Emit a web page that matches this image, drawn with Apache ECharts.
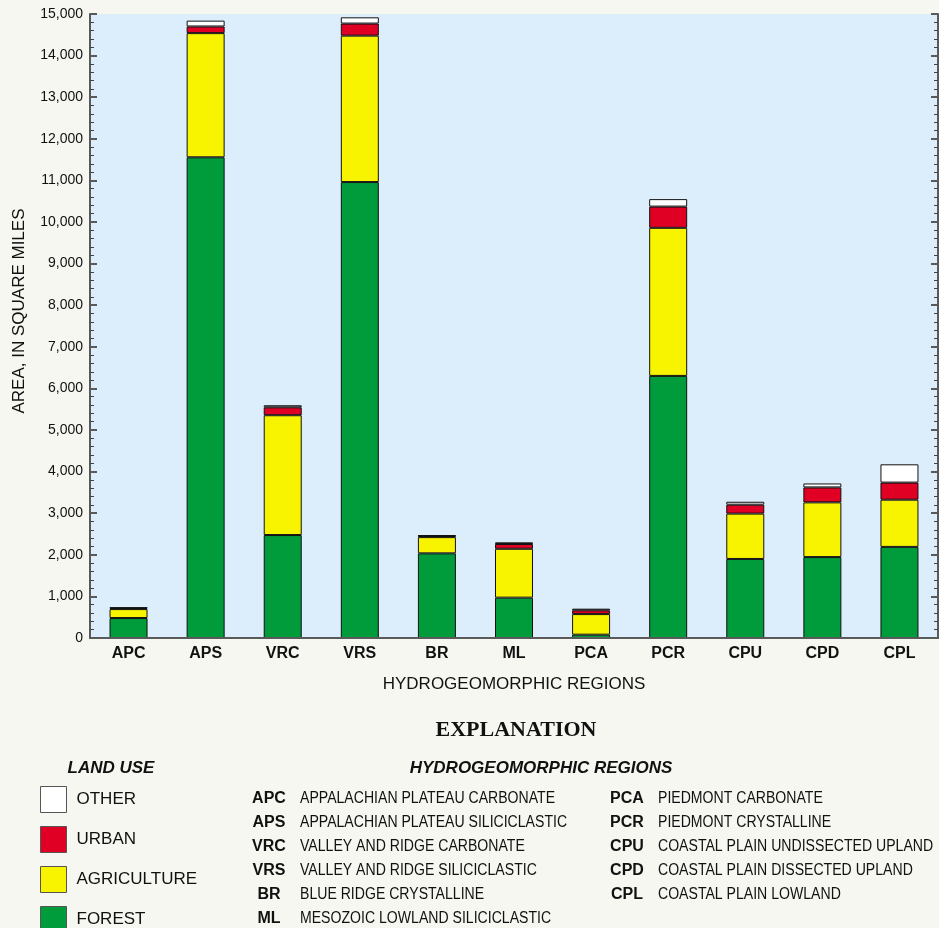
<!DOCTYPE html>
<html>
<head>
<meta charset="utf-8">
<title>Land use by hydrogeomorphic region</title>
<script src="https://cdn.jsdelivr.net/npm/echarts@6/dist/echarts.min.js"></script>
<style>
  html, body { margin: 0; padding: 0; background: #F6F7F0; }
  #chart { width: 939px; height: 928px; }
</style>
</head>
<body>
<div id="chart"></div>
<script>
// Hydrogeomorphic region codes (x-axis categories)
const regions = ['APC', 'APS', 'VRC', 'VRS', 'BR', 'ML', 'PCA', 'PCR', 'CPU', 'CPD', 'CPL'];

// Area by land use, in square miles, stacked bottom to top
const forest      = [480, 11555, 2475, 10960, 2035, 970,  80, 6300, 1900, 1945, 2190];
const agriculture = [215,  2985, 2880,  3520,  390, 1175, 495, 3560, 1090, 1315, 1135];
const urban       = [ 25,   160,  190,   290,   30,  115,  90,  510,  215,  360,  410];
const other       = [ 15,   140,   50,   150,   15,   40,  40,  180,   70,   95,  440];

// Y-axis range
const yMin = 0, yMax = 15000, yStep = 1000;

// Explanation text
const regionNamesLeft = [
  ['APC', 'APPALACHIAN PLATEAU CARBONATE'],
  ['APS', 'APPALACHIAN PLATEAU SILICICLASTIC'],
  ['VRC', 'VALLEY AND RIDGE CARBONATE'],
  ['VRS', 'VALLEY AND RIDGE SILICICLASTIC'],
  ['BR',  'BLUE RIDGE CRYSTALLINE'],
  ['ML',  'MESOZOIC LOWLAND SILICICLASTIC']
];
const regionNamesRight = [
  ['PCA', 'PIEDMONT CARBONATE'],
  ['PCR', 'PIEDMONT CRYSTALLINE'],
  ['CPU', 'COASTAL PLAIN UNDISSECTED UPLAND'],
  ['CPD', 'COASTAL PLAIN DISSECTED UPLAND'],
  ['CPL', 'COASTAL PLAIN LOWLAND']
];

const COLORS = { forest: '#009B3A', agriculture: '#F8F400', urban: '#E00024', other: '#FFFFFF' };
const FONT = '"Liberation Sans", Arial, Helvetica, sans-serif';
const AXIS_GRAY = '#5A5A5A';

const chart = echarts.init(document.getElementById('chart'), null, { renderer: 'canvas' });

function barSeries(name, data, color) {
  return {
    name: name,
    type: 'bar',
    stack: 'area',
    data: data,
    barWidth: 38,
    itemStyle: { color: color, borderColor: '#111', borderWidth: 1 },
    emphasis: { disabled: true },
    xAxisIndex: 0,
    yAxisIndex: 0
  };
}

// Explanation block drawn as graphic text
const graphics = [];
graphics.push({
  type: 'text', x: 516, y: 730,
  style: { text: 'EXPLANATION', font: 'bold 22px "Liberation Serif", "Times New Roman", serif',
           fill: '#111', textAlign: 'center', textVerticalAlign: 'middle' }
});
graphics.push({
  type: 'text', x: 111, y: 768,
  style: { text: 'LAND USE', font: 'italic bold 17px ' + FONT,
           fill: '#111', textAlign: 'center', textVerticalAlign: 'middle' }
});
graphics.push({
  type: 'text', x: 541, y: 768,
  style: { text: 'HYDROGEOMORPHIC REGIONS', font: 'italic bold 17px ' + FONT,
           fill: '#111', textAlign: 'center', textVerticalAlign: 'middle' }
});
// Y-axis title
graphics.push({
  type: 'text', x: 19, y: 311, rotation: Math.PI / 2,
  style: { text: 'AREA, IN SQUARE MILES', font: '17px ' + FONT,
           fill: '#111', textAlign: 'center', textVerticalAlign: 'middle' }
});

function addRegionColumn(list, codeX, nameX) {
  list.forEach(function (row, i) {
    const y = 799 + i * 24;
    graphics.push({
      type: 'text', x: codeX, y: y,
      style: { text: row[0], font: 'bold 16px ' + FONT, fill: '#111',
               textAlign: 'center', textVerticalAlign: 'middle' }
    });
    graphics.push({
      type: 'text', x: nameX, y: y, scaleX: 0.88, scaleY: 1,
      style: { text: row[1], font: '16px ' + FONT, fill: '#111',
               textAlign: 'left', textVerticalAlign: 'middle' }
    });
  });
}
addRegionColumn(regionNamesLeft, 269, 300);
addRegionColumn(regionNamesRight, 627, 658);

const option = {
  backgroundColor: '#F6F7F0',
  animation: false,
  textStyle: { fontFamily: FONT },
  grid: {
    left: 90, right: 1, top: 14, bottom: 290,
    show: true, backgroundColor: '#DCEDFB', borderColor: AXIS_GRAY, borderWidth: 0,
    containLabel: false
  },
  legend: {
    orient: 'vertical',
    left: 35, top: 781,
    height: 180,
    padding: 5,
    icon: 'rect',
    itemWidth: 26, itemHeight: 26, itemGap: 13,
    data: ['OTHER', 'URBAN', 'AGRICULTURE', 'FOREST'],
    selectedMode: false,
    textStyle: { fontSize: 17, color: '#111', fontFamily: FONT, padding: [0, 0, 0, 5] },
    itemStyle: { borderColor: '#555', borderWidth: 1 }
  },
  xAxis: [
    {
      type: 'category',
      data: regions,
      position: 'bottom',
      z: 5,
      axisLine: { lineStyle: { color: AXIS_GRAY, width: 2 } },
      axisTick: { inside: true, alignWithLabel: true, length: 7, lineStyle: { color: '#222', width: 1 } },
      axisLabel: { margin: 8, fontSize: 16, fontWeight: 'bold', color: '#111', fontFamily: FONT },
      name: 'HYDROGEOMORPHIC REGIONS',
      nameLocation: 'middle',
      nameGap: 38,
      nameTextStyle: { fontSize: 17, color: '#111', fontFamily: FONT }
    },
    {
      type: 'category',
      data: regions,
      position: 'top',
      z: 5,
      axisLine: { lineStyle: { color: AXIS_GRAY, width: 2 } },
      axisTick: { inside: true, alignWithLabel: true, length: 7, lineStyle: { color: '#222', width: 1 } },
      axisLabel: { show: false }
    }
  ],
  yAxis: [
    {
      type: 'value',
      min: yMin, max: yMax, interval: yStep,
      position: 'left',
      axisLine: { show: true, lineStyle: { color: AXIS_GRAY, width: 2 } },
      axisTick: { show: true, inside: true, length: 7, lineStyle: { color: AXIS_GRAY, width: 2 } },
      minorTick: { show: true, splitNumber: 5, length: 4, lineStyle: { color: '#444', width: 1 } },
      splitLine: { show: false },
      axisLabel: { margin: 7, fontSize: 14, color: '#111', fontFamily: FONT }
    },
    {
      type: 'value',
      min: yMin, max: yMax, interval: yStep,
      position: 'right',
      axisLine: { show: true, lineStyle: { color: AXIS_GRAY, width: 2 } },
      axisTick: { show: true, inside: true, length: 7, lineStyle: { color: AXIS_GRAY, width: 2 } },
      minorTick: { show: true, splitNumber: 5, length: 4, lineStyle: { color: '#444', width: 1 } },
      splitLine: { show: false },
      axisLabel: { show: false }
    }
  ],
  series: [
    barSeries('FOREST', forest, COLORS.forest),
    barSeries('AGRICULTURE', agriculture, COLORS.agriculture),
    barSeries('URBAN', urban, COLORS.urban),
    barSeries('OTHER', other, COLORS.other)
  ],
  graphic: graphics
};

chart.setOption(option);
</script>
</body>
</html>
